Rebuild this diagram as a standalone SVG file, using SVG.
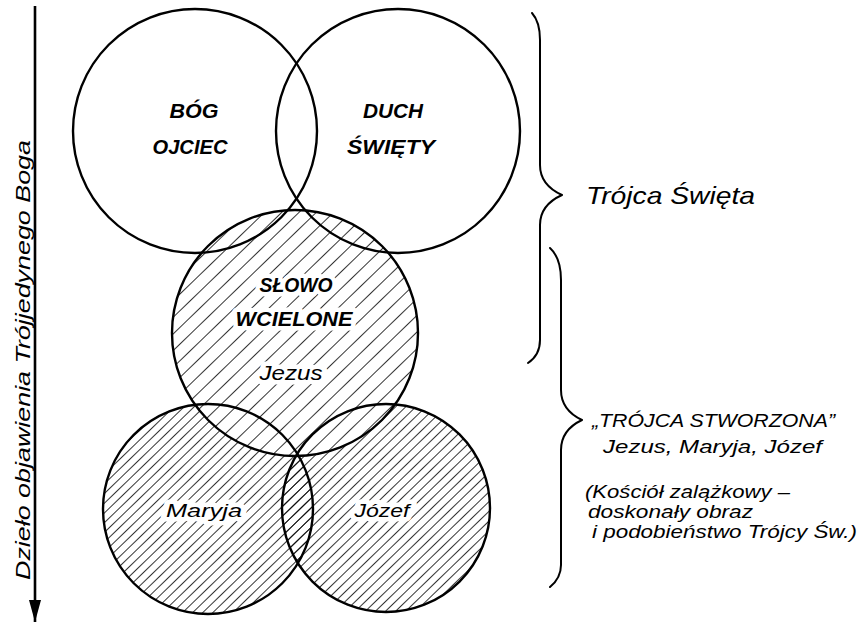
<svg xmlns="http://www.w3.org/2000/svg" width="866" height="624" viewBox="0 0 866 624">
<style>
.ring{fill:none;stroke:#000;stroke-width:2.4}
.br{fill:none;stroke:#000;stroke-width:2;stroke-linecap:round;stroke-linejoin:round}
.lbl{font-family:"Liberation Sans",Arial,sans-serif;font-style:italic;fill:#000;text-anchor:middle;paint-order:stroke fill;stroke:#fff;stroke-width:9;stroke-linejoin:round}
.b{font-weight:bold}
.side{font-family:"Liberation Sans",Arial,sans-serif;font-style:italic;fill:#000}
</style>
<defs>
<pattern id="hw" patternUnits="userSpaceOnUse" width="12" height="12" patternTransform="rotate(46)">
<line x1="0" y1="0" x2="0" y2="12" stroke="#000" stroke-width="1.6"/>
</pattern>
<pattern id="hd" patternUnits="userSpaceOnUse" width="7" height="7" patternTransform="rotate(46)">
<line x1="0" y1="0" x2="0" y2="7" stroke="#000" stroke-width="1.6"/>
</pattern>
<marker id="arr" viewBox="0 0 22 12" refX="22" refY="6" markerWidth="22" markerHeight="12" markerUnits="userSpaceOnUse" orient="auto">
<path d="M0,0 L22,6 L0,12 Z" fill="#000"/>
</marker>
</defs>
<rect width="866" height="624" fill="#fff"/>
<g id="fills">
<circle cx="208" cy="509" r="105" fill="url(#hd)"/>
<circle cx="386" cy="508" r="104" fill="url(#hd)"/>
<circle cx="295" cy="333" r="123" fill="#fff"/>
<circle cx="295" cy="333" r="123" fill="url(#hw)"/>
</g>
<g id="maryja">
<circle class="ring" cx="208" cy="509" r="105"/>
<text class="lbl" x="204" y="517" font-size="19" textLength="76" lengthAdjust="spacingAndGlyphs">Maryja</text>
</g>
<g id="jozef">
<circle class="ring" cx="386" cy="508" r="104"/>
<text class="lbl" x="382" y="517" font-size="19" textLength="55" lengthAdjust="spacingAndGlyphs">Józef</text>
</g>
<g id="slowo">
<circle class="ring" cx="295" cy="333" r="123"/>
<text class="lbl b" x="296" y="292" font-size="21" textLength="73" lengthAdjust="spacingAndGlyphs">SŁOWO</text>
<text class="lbl b" x="294" y="326" font-size="21" textLength="117" lengthAdjust="spacingAndGlyphs">WCIELONE</text>
<text class="lbl" x="291" y="380" font-size="20" textLength="63" lengthAdjust="spacingAndGlyphs">Jezus</text>
</g>
<g id="bog">
<circle class="ring" cx="195" cy="131" r="122"/>
<text class="lbl b" x="194" y="118" font-size="20" textLength="49" lengthAdjust="spacingAndGlyphs">BÓG</text>
<text class="lbl b" x="190" y="154" font-size="20" textLength="75" lengthAdjust="spacingAndGlyphs">OJCIEC</text>
</g>
<g id="duch">
<circle class="ring" cx="398" cy="131" r="122"/>
<text class="lbl b" x="393" y="118" font-size="20" textLength="60" lengthAdjust="spacingAndGlyphs">DUCH</text>
<text class="lbl b" x="391" y="154" font-size="20" textLength="88" lengthAdjust="spacingAndGlyphs">ŚWIĘTY</text>
</g>
<g id="trojca-swieta">
<text class="side" x="586" y="204" font-size="24" textLength="169" lengthAdjust="spacingAndGlyphs">Trójca Święta</text>
</g>
<g id="trojca-stworzona">
<text class="side" x="592" y="427" font-size="19" textLength="243" lengthAdjust="spacingAndGlyphs">„TRÓJCA STWORZONA”</text>
<text class="side" x="603" y="453" font-size="19" textLength="219" lengthAdjust="spacingAndGlyphs">Jezus, Maryja, Józef</text>
<text class="side" x="585" y="498" font-size="19" textLength="205" lengthAdjust="spacingAndGlyphs">(Kościół zalążkowy –</text>
<text class="side" x="588" y="518" font-size="19" textLength="165" lengthAdjust="spacingAndGlyphs">doskonały obraz</text>
<text class="side" x="592" y="538" font-size="19" textLength="265" lengthAdjust="spacingAndGlyphs">i podobieństwo Trójcy Św.)</text>
</g>
<g id="axis">
<text class="side" transform="translate(30,360) rotate(-90)" text-anchor="middle" font-size="20" textLength="440" lengthAdjust="spacingAndGlyphs">Dzieło objawienia Trójjedynego Boga</text>
</g>
<g id="connectors">
<line x1="35" y1="6" x2="35" y2="622" stroke="#000" stroke-width="2.6" marker-end="url(#arr)"/>
<path class="br" d="M532,13 Q540,22 540,40 L540,165 Q540,185 562,195 Q540,205 540,225 L540,340 Q540,355 528,363"/>
<path class="br" d="M550,248 Q561,258 561,280 L561,390 Q561,410 582,420 Q561,430 561,450 L561,565 Q561,578 550,587"/>
</g>
</svg>
